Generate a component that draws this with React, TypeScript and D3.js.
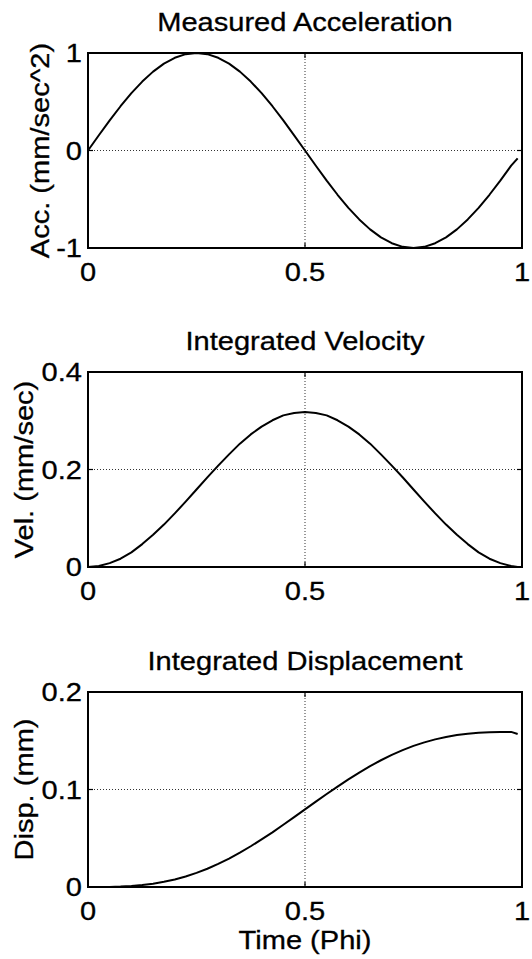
import React from "react";
import * as d3 from "d3";

// Sample times (fraction of the period, Phi)
const TIME = [
  0, 0.025, 0.05, 0.075, 0.1, 0.125, 0.15, 0.175, 0.2, 0.225,
  0.25, 0.275, 0.3, 0.325, 0.35, 0.375, 0.4, 0.425, 0.45, 0.475,
  0.5, 0.525, 0.55, 0.575, 0.6, 0.625, 0.65, 0.675, 0.7, 0.725,
  0.75, 0.775, 0.8, 0.825, 0.85, 0.875, 0.9, 0.925, 0.95, 0.975, 0.99,
];

// Measured acceleration (mm/sec^2)
const ACCELERATION = [
  0, 0.156, 0.309, 0.454, 0.588, 0.707, 0.809, 0.891, 0.951, 0.988,
  1.0, 0.988, 0.951, 0.891, 0.809, 0.707, 0.588, 0.454, 0.309, 0.156,
  0, -0.156, -0.309, -0.454, -0.588, -0.707, -0.809, -0.891, -0.951, -0.988,
  -1.0, -0.988, -0.951, -0.891, -0.809, -0.707, -0.588, -0.454, -0.309, -0.156, -0.08,
];

// Integrated velocity (mm/sec)
const VELOCITY = [
  0, 0.002, 0.008, 0.017, 0.03, 0.047, 0.066, 0.087, 0.11, 0.134,
  0.159, 0.184, 0.208, 0.231, 0.253, 0.272, 0.288, 0.301, 0.311, 0.316,
  0.318, 0.316, 0.311, 0.301, 0.288, 0.272, 0.253, 0.231, 0.208, 0.184,
  0.159, 0.134, 0.11, 0.087, 0.066, 0.047, 0.03, 0.017, 0.008, 0.002, 0,
];

// Integrated displacement (mm)
const DISPLACEMENT = [
  0, 0.0000, 0.0001, 0.0004, 0.001, 0.002, 0.0034, 0.0053, 0.0077, 0.0108,
  0.0145, 0.0187, 0.0237, 0.0292, 0.0352, 0.0418, 0.0488, 0.0561, 0.0638, 0.0717,
  0.0796, 0.0875, 0.0954, 0.103, 0.1104, 0.1174, 0.1239, 0.13, 0.1355, 0.1404,
  0.1447, 0.1483, 0.1514, 0.1539, 0.1558, 0.1572, 0.1581, 0.1587, 0.159, 0.1591, 0.157,
];

const X_TICKS = [0, 0.5, 1];
const X_TICK_LABELS = ["0", "0.5", "1"];

const ACC_TICKS = [-1, 0, 1];
const ACC_TICK_LABELS = ["-1", "0", "1"];
const VEL_TICKS = [0, 0.2, 0.4];
const VEL_TICK_LABELS = ["0", "0.2", "0.4"];
const DISP_TICKS = [0, 0.1, 0.2];
const DISP_TICK_LABELS = ["0", "0.1", "0.2"];

const TITLES = ["Measured Acceleration", "Integrated Velocity", "Integrated Displacement"];
const Y_LABELS = ["Acc. (mm/sec^2)", "Vel. (mm/sec)", "Disp. (mm)"];
const X_LABEL = "Time (Phi)";

const W = 532;
const H = 959;
const LEFT = 88;
const RIGHT = 522;
const PANEL_H = 195;
const PANEL_TOPS = [53, 372, 692];
const Y_LABEL_X = [49, 33, 33];
const FONT = "'Liberation Sans', Arial, Helvetica, sans-serif";
const FS = 25.5;
const SX = 1.14;

type Panel = {
  title: string;
  yLabel: string;
  values: number[];
  ticks: number[];
  tickLabels: string[];
};

const PANELS: Panel[] = [
  { title: TITLES[0], yLabel: Y_LABELS[0], values: ACCELERATION, ticks: ACC_TICKS, tickLabels: ACC_TICK_LABELS },
  { title: TITLES[1], yLabel: Y_LABELS[1], values: VELOCITY, ticks: VEL_TICKS, tickLabels: VEL_TICK_LABELS },
  { title: TITLES[2], yLabel: Y_LABELS[2], values: DISPLACEMENT, ticks: DISP_TICKS, tickLabels: DISP_TICK_LABELS },
];

function Txt(props: { x: number; y: number; anchor?: string; rotate?: boolean; children: string }) {
  const { x, y, anchor = "middle", rotate = false, children } = props;
  const t = rotate ? `translate(${x},${y}) rotate(-90) scale(${SX},1)` : `translate(${x},${y}) scale(${SX},1)`;
  return (
    <text
      transform={t}
      textAnchor={anchor}
      fontFamily={FONT}
      fontSize={FS}
      fill="#000"
      stroke="#000"
      strokeWidth={0.3}
    >
      {children}
    </text>
  );
}

function PanelView({ p, i }: { p: Panel; i: number }) {
  const top = PANEL_TOPS[i];
  const bottom = top + PANEL_H;
  const x = d3.scaleLinear().domain([0, 1]).range([LEFT, RIGHT]);
  const y = d3
    .scaleLinear()
    .domain([p.ticks[0], p.ticks[p.ticks.length - 1]])
    .range([bottom, top]);
  const line = d3
    .line<number>()
    .x((_, k) => x(TIME[k]))
    .y((v) => y(v));
  const midY = (top + bottom) / 2;
  const tickLen = 5;
  return (
    <g>
      {/* grid */}
      {X_TICKS.map((t) => (
        <line key={"gx" + t} x1={x(t)} x2={x(t)} y1={top} y2={bottom} stroke="#333" strokeWidth={1} strokeDasharray="1,2" />
      ))}
      {p.ticks.map((t) => (
        <line key={"gy" + t} x1={LEFT} x2={RIGHT} y1={y(t)} y2={y(t)} stroke="#333" strokeWidth={1} strokeDasharray="1,2" />
      ))}
      {/* inward ticks */}
      {X_TICKS.map((t) => (
        <g key={"tx" + t}>
          <line x1={x(t)} x2={x(t)} y1={bottom} y2={bottom - tickLen} stroke="#000" strokeWidth={1.2} />
          <line x1={x(t)} x2={x(t)} y1={top} y2={top + tickLen} stroke="#000" strokeWidth={1.2} />
        </g>
      ))}
      {p.ticks.map((t) => (
        <g key={"ty" + t}>
          <line x1={LEFT} x2={LEFT + tickLen} y1={y(t)} y2={y(t)} stroke="#000" strokeWidth={1.2} />
          <line x1={RIGHT} x2={RIGHT - tickLen} y1={y(t)} y2={y(t)} stroke="#000" strokeWidth={1.2} />
        </g>
      ))}
      {/* data */}
      <path d={line(p.values) || ""} fill="none" stroke="#000" strokeWidth={2} strokeLinejoin="round" />
      {/* box */}
      <rect x={LEFT} y={top} width={RIGHT - LEFT} height={PANEL_H} fill="none" stroke="#000" strokeWidth={2} />
      {/* tick labels */}
      {X_TICKS.map((t, k) => (
        <Txt key={"lx" + t} x={x(t)} y={bottom + 33}>{X_TICK_LABELS[k]}</Txt>
      ))}
      {p.ticks.map((t, k) => (
        <Txt key={"ly" + t} x={LEFT - 6} y={y(t) + 9} anchor="end">{p.tickLabels[k]}</Txt>
      ))}
      <Txt x={(LEFT + RIGHT) / 2} y={top - 22}>{p.title}</Txt>
      <Txt x={Y_LABEL_X[i]} y={midY} rotate>{p.yLabel}</Txt>
    </g>
  );
}

export default function App() {
  const lastBottom = PANEL_TOPS[2] + PANEL_H;
  return (
    <svg
      width={W}
      height={H}
      viewBox={`0 0 ${W} ${H}`}
      style={{ position: "absolute", left: 0, top: 0, background: "#fff" }}
    >
      <rect x={0} y={0} width={W} height={H} fill="#fff" />
      {PANELS.map((p, i) => (
        <PanelView key={i} p={p} i={i} />
      ))}
      <Txt x={(LEFT + RIGHT) / 2} y={lastBottom + 62}>{X_LABEL}</Txt>
    </svg>
  );
}
